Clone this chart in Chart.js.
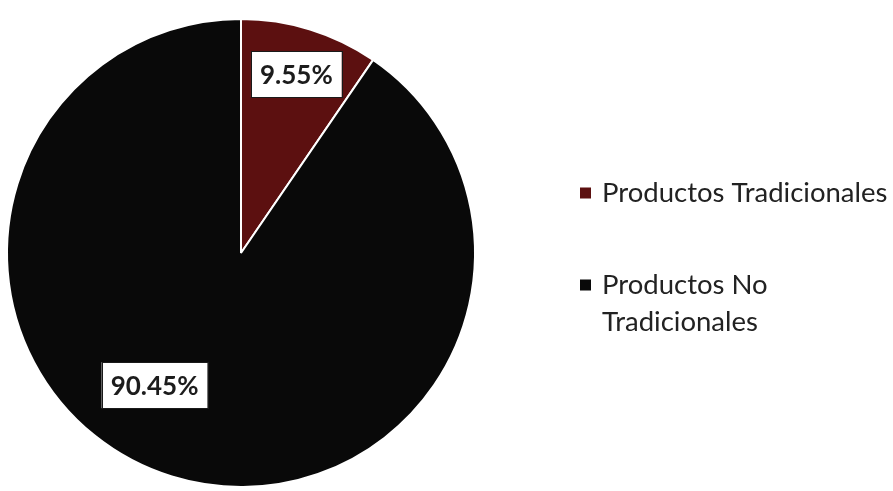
<!DOCTYPE html>
<html>
<head>
<meta charset="utf-8">
<script src="https://cdn.jsdelivr.net/npm/chart.js@4"></script>
<style>
  html, body { margin: 0; padding: 0; background: #fff; }
  #wrap { width: 893px; height: 491px; }
</style>
</head>
<body>
<div id="wrap"><canvas id="chart" width="893" height="491"></canvas></div>
<script>
const categories = ['Productos Tradicionales', 'Productos No Tradicionales'];
const shares = [9.55, 90.45];
const sliceColors = ['#5c1010', '#090909'];

// custom legend drawn on the right, wrapping long labels like Excel does
const sideLegend = {
  id: 'sideLegend',
  afterDraw(chart, args, opts) {
    const ctx = chart.ctx;
    const colors = chart.data.datasets[0].backgroundColor;
    ctx.save();
    ctx.font = opts.font;
    ctx.textBaseline = 'middle';
    ctx.textAlign = 'left';
    chart.data.labels.forEach((label, i) => {
      // word wrap
      const words = label.split(' ');
      const lines = [];
      let cur = '';
      words.forEach(w => {
        const test = cur ? cur + ' ' + w : w;
        if (cur && ctx.measureText(test).width > opts.maxWidth) {
          lines.push(cur);
          cur = w;
        } else {
          cur = test;
        }
      });
      lines.push(cur);

      const y = opts.itemY[i];
      ctx.fillStyle = colors[i];
      ctx.fillRect(opts.x, y - opts.box / 2, opts.box, opts.box);
      ctx.fillStyle = opts.color;
      lines.forEach((ln, k) => {
        ctx.fillText(ln, opts.x + opts.box + opts.gap, y + k * opts.lineHeight);
      });
    });
    ctx.restore();
  }
};

// percentage labels in white boxes
const boxLabels = {
  id: 'boxLabels',
  afterDatasetsDraw(chart, args, opts) {
    const ctx = chart.ctx;
    const meta = chart.getDatasetMeta(0);
    const values = chart.data.datasets[0].data;
    ctx.save();
    ctx.font = opts.font;
    ctx.textAlign = 'center';
    ctx.textBaseline = 'middle';
    meta.data.forEach((arc, i) => {
      const p = arc.getProps(['x', 'y', 'startAngle', 'endAngle', 'outerRadius'], true);
      const place = opts.placement[i];
      const a = (p.startAngle + p.endAngle) / 2 + place.shift * Math.PI / 180;
      const cx = p.x + Math.cos(a) * p.outerRadius * place.r;
      const cy = p.y + Math.sin(a) * p.outerRadius * place.r;
      const text = values[i].toFixed(2) + '%';
      const w = ctx.measureText(text).width + opts.padX * 2;
      const h = opts.boxH;
      ctx.fillStyle = '#ffffff';
      ctx.fillRect(cx - w / 2, cy - h / 2, w, h);
      ctx.strokeStyle = '#1a1a1a';
      ctx.lineWidth = 1;
      ctx.strokeRect(Math.round(cx - w / 2) + 0.5, Math.round(cy - h / 2) + 0.5, Math.round(w), h);
      ctx.fillStyle = '#1c1c1c';
      ctx.fillText(text, cx, cy + 1);
    });
    ctx.restore();
  }
};

new Chart(document.getElementById('chart'), {
  type: 'pie',
  data: {
    labels: categories,
    datasets: [{
      data: shares,
      backgroundColor: sliceColors,
      borderColor: '#ffffff',
      borderWidth: 2
    }]
  },
  options: {
    responsive: false,
    animation: false,
    layout: { padding: { left: 6, right: 417, top: 16, bottom: 1 } },
    plugins: {
      legend: { display: false },
      tooltip: { enabled: false },
      boxLabels: {
        font: 'bold 26px Lato',
        padX: 9,
        boxH: 46,
        placement: [{ r: 0.80, shift: 0 }, { r: 0.675, shift: 16 }]
      },
      sideLegend: {
        font: '27.5px Lato',
        color: '#222222',
        x: 580,
        box: 11,
        gap: 11,
        maxWidth: 300,
        lineHeight: 37,
        itemY: [193, 285]
      }
    }
  },
  plugins: [boxLabels, sideLegend]
});
</script>
</body>
</html>
